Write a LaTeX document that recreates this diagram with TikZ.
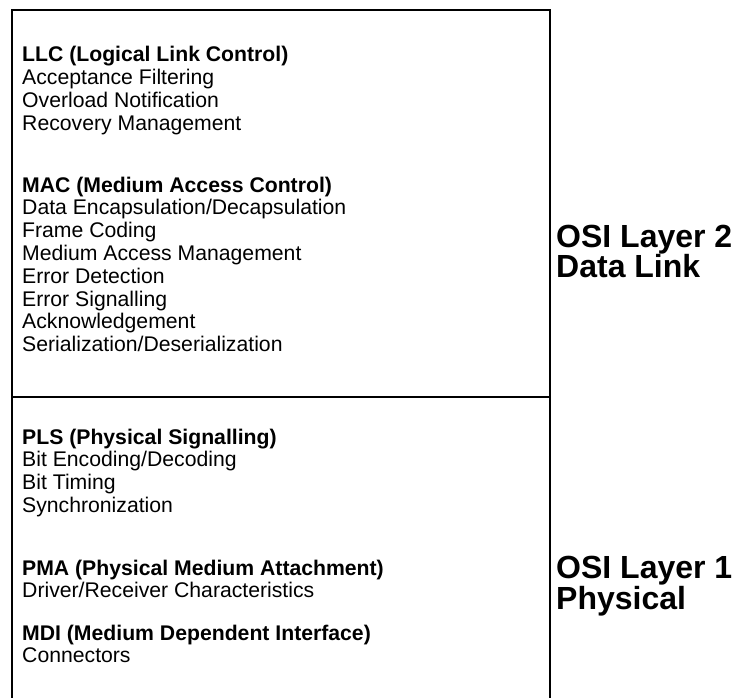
\documentclass[tikz,border=0pt]{standalone}
\usepackage{fontspec}
\setmainfont{Liberation Sans}
\begin{document}
\begin{tikzpicture}[x=1pt,y=-1pt,
  item/.style={anchor=base west,inner sep=0pt,font=\fontsize{21.2}{22.8}\selectfont},
  head/.style={item,font=\fontsize{21.2}{22.8}\selectfont\bfseries},
  layer/.style={anchor=base west,inner sep=0pt,font=\fontsize{32}{35}\selectfont\bfseries},
  frame/.style={line width=2pt}]
\useasboundingbox (0,0) rectangle (736,698);

% outer frame, open at the bottom, and the layer divider
\coordinate (bl) at (12,700);
\coordinate (tl) at (12,10);
\coordinate (tr) at (550,10);
\coordinate (br) at (550,700);
\coordinate (ml) at (12,397);
\coordinate (mr) at (550,397);
\draw[frame] (bl) -- (tl) -- (tr) -- (br);
\draw[frame] (ml) -- (mr);

% Data link layer sublayers
\node[head] (llc) at (22,62) {LLC (Logical Link Control)};
\node[item] (llc1) at (22,84.8) {Acceptance Filtering};
\node[item] (llc2) at (22,107.6) {Overload Notification};
\node[item] (llc3) at (22,130.4) {Recovery Management};

\node[head] (mac) at (22,192) {MAC (Medium Access Control)};
\node[item] (mac1) at (22,214.8) {Data Encapsulation/Decapsulation};
\node[item] (mac2) at (22,237.6) {Frame Coding};
\node[item] (mac3) at (22,260.4) {Medium Access Management};
\node[item] (mac4) at (22,283.2) {Error Detection};
\node[item] (mac5) at (22,306) {Error Signalling};
\node[item] (mac6) at (22,328.8) {Acknowledgement};
\node[item] (mac7) at (22,351.6) {Serialization/Deserialization};

% Physical layer sublayers
\node[head] (pls) at (22,444) {PLS (Physical Signalling)};
\node[item] (pls1) at (22,466.8) {Bit Encoding/Decoding};
\node[item] (pls2) at (22,489.6) {Bit Timing};
\node[item] (pls3) at (22,512.4) {Synchronization};

\node[head] (pma) at (22,575) {PMA (Physical Medium Attachment)};
\node[item] (pma1) at (22,597.8) {Driver/Receiver Characteristics};

\node[head] (mdi) at (22,640) {MDI (Medium Dependent Interface)};
\node[item] (mdi1) at (22,662.8) {Connectors};

% Layer captions
\node[layer] (l2a) at (556,247.5) {OSI Layer 2};
\node[layer] (l2b) at (556,277.5) {Data Link};
\node[layer] (l1a) at (556,578.5) {OSI Layer 1};
\node[layer] (l1b) at (556,609.5) {Physical};
\end{tikzpicture}
\end{document}
